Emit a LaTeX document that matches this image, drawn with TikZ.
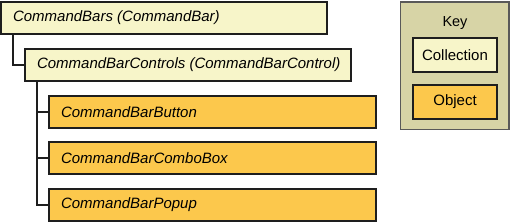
\documentclass[tikz,border=0pt]{standalone}
\usepackage{fontspec}
\setmainfont{Liberation Sans}
\definecolor{collfill}{HTML}{F7F5C9}
\definecolor{objfill}{HTML}{FCC84C}
\definecolor{keyfill}{HTML}{D7D4A6}
\definecolor{linecol}{HTML}{1E1E1E}
\newcommand{\lbox}[2]{\makebox[#1][l]{#2}}
\begin{document}
\begin{tikzpicture}[x=1pt,y=-1pt,
  boxbase/.style={draw=linecol, line width=2pt, rectangle, anchor=north west,
    minimum height=32pt, inner xsep=12pt, inner ysep=0pt,
    font=\itshape\fontsize{15}{15}\selectfont},
  collbox/.style={boxbase, fill=collfill},
  objbox/.style={boxbase, fill=objfill},
  keyitem/.style={draw=linecol, line width=2pt, rectangle, anchor=north west,
    minimum width=84pt, minimum height=34pt, inner sep=0pt,
    font=\fontsize{15}{15}\selectfont},
  conn/.style={draw=linecol, line width=2pt}
]
\useasboundingbox (0,0) rectangle (511,224);

% key
\node[draw=black!65, line width=1.5pt, fill=keyfill, anchor=north west,
  minimum width=108.5pt, minimum height=127.5pt, inner sep=0pt] (key) at (399.5,1.5) {};
\node[font=\fontsize{14.5}{14.5}\selectfont] (keylbl) at (455,23) {Key};
\node[keyitem, fill=collfill] (kcoll) at (412,37) {Collection};
\node[keyitem, fill=objfill] (kobj) at (412,84) {Object};

% hierarchy
\node[collbox] (b1) at (0,1) {\lbox{302pt}{CommandBars (CommandBar)}};
\node[collbox] (b2) at (24,48) {\lbox{302pt}{CommandBarControls (CommandBarControl)}};
\node[objbox] (b3) at (48,95) {\lbox{303pt}{CommandBarButton}};
\node[objbox] (b4) at (48,141) {\lbox{303pt}{CommandBarComboBox}};
\node[objbox] (b5) at (48,188) {\lbox{303pt}{CommandBarPopup}};

\draw[conn] ([xshift=13pt]b1.south west) |- (b2.west);
\draw[conn] ([xshift=13pt]b2.south west) |- (b5.west);
\draw[conn] ([xshift=13pt]b2.south west) |- (b3.west);
\draw[conn] ([xshift=13pt]b2.south west) |- (b4.west);
\end{tikzpicture}
\end{document}
